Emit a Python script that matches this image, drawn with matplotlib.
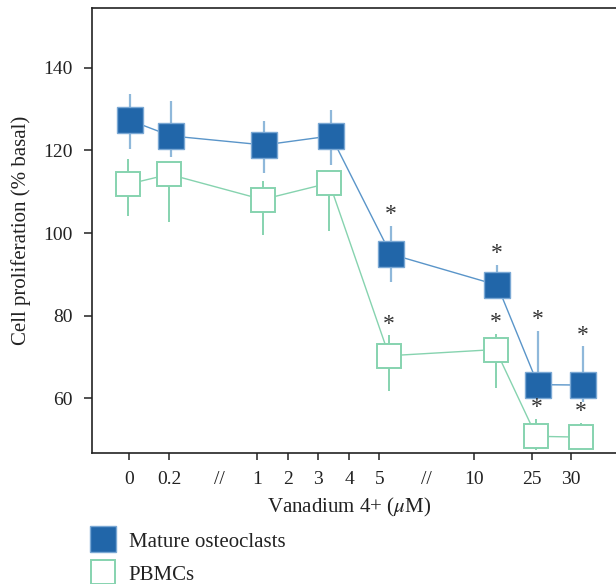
import matplotlib.pyplot as plt
from matplotlib.lines import Line2D

# Data (% basal)
doses = ['0', '0.2', '1', '3', '5', '10', '25', '30']
osteo_mean = [127.3, 123.5, 121.3, 123.5, 94.9, 87.4, 63.3, 63.2]
osteo_hi = [133.6, 131.9, 127.2, 129.8, 101.8, 92.3, 76.4, 72.6]
osteo_lo = [120.3, 118.3, 114.4, 116.5, 88.1, 85.5, 61.5, 59.2]
pbmc_mean = [111.8, 114.2, 108.1, 112.1, 70.3, 71.8, 50.8, 50.6]
pbmc_hi = [117.8, 116.0, 112.7, 114.0, 75.2, 75.6, 55.0, 54.0]
pbmc_lo = [104.2, 102.6, 99.4, 100.4, 61.7, 62.4, 47.5, 48.5]
significant = [False, False, False, False, True, True, True, True]

tick_labels = ['0', '0.2', '1', '2', '3', '4', '5', '10', '25', '30']
break_labels = ['//', '//']

# layout: slot positions along the broken x axis
tick_pos = [129, 169.3, 256.7, 287.7, 317.7, 349.3, 379.3, 473.7, 531.7, 571.3]
break_pos = [219.3, 426.7]
dose_pos = [128.7, 170, 263.3, 330.2, 389.9, 496.4, 537.2, 581.7]

BLUE = '#2166a9'
BLUE_EDGE = '#7aa8d4'
BLUE_LINE = '#5a95c9'
BLUE_ERR = '#8fb8da'
GREEN = '#86d3af'
INK = '#222222'

plt.rcParams['font.family'] = ['Liberation Serif', 'DejaVu Serif']
plt.rcParams['mathtext.fontset'] = 'stix'

fig = plt.figure(figsize=(6.16, 5.84), dpi=100)
ax = fig.add_axes([91.7 / 616, 1 - 453 / 584, 1 - 91.7 / 616, (453 - 8) / 584])

xo = [p + 0.8 for p in dose_pos]
xp = [p - 0.8 for p in dose_pos]

# error bars
ax.errorbar(xo, osteo_mean,
            yerr=[[m - l for m, l in zip(osteo_mean, osteo_lo)],
                  [h - m for m, h in zip(osteo_mean, osteo_hi)]],
            fmt='none', ecolor=BLUE_ERR, elinewidth=1.6, capsize=0, zorder=2)
ax.errorbar(xp, pbmc_mean,
            yerr=[[m - l for m, l in zip(pbmc_mean, pbmc_lo)],
                  [h - m for m, h in zip(pbmc_mean, pbmc_hi)]],
            fmt='none', ecolor=GREEN, elinewidth=1.4, capsize=0, zorder=2)

# connecting lines + square markers
ax.plot(xo, osteo_mean, color=BLUE_LINE, lw=1.0, zorder=1)
ax.plot(xp, pbmc_mean, color=GREEN, lw=1.0, zorder=1)
ax.plot(xo, osteo_mean, ls='none', marker='s', ms=18.2, mfc=BLUE,
        mec=BLUE_EDGE, mew=1.0, zorder=3)
ax.plot(xp, pbmc_mean, ls='none', marker='s', ms=17.5, mfc='white',
        mec=GREEN, mew=1.4, zorder=3)

# significance stars
for x, top, sig in zip(xo, osteo_hi, significant):
    if sig:
        ax.annotate('*', (x, top), xytext=(0, 0.5), textcoords='offset points',
                    ha='center', va='bottom', fontsize=17, color='#333333')
for x, top, sig in zip(xp, pbmc_hi, significant):
    if sig:
        ax.annotate('*', (x, top), xytext=(0, 0.5), textcoords='offset points',
                    ha='center', va='bottom', fontsize=17, color='#333333')

ax.set_xlim(91.7, 616)
ax.set_ylim(46.76, 154.45)
ax.set_yticks([60, 80, 100, 120, 140])
ax.set_xticks(tick_pos)
ax.set_xticklabels(tick_labels)
ax.set_xticks(break_pos, minor=True)
ax.set_xticklabels(break_labels, minor=True)
ax.tick_params(axis='x', which='minor', length=0, pad=13, labelsize=14, colors=INK)
ax.tick_params(axis='x', which='major', length=5, width=1.1, pad=8, labelsize=14, colors=INK)
ax.tick_params(axis='y', length=6, width=1.1, pad=8, labelsize=14, colors=INK)

for s in ['left', 'bottom', 'top']:
    ax.spines[s].set_linewidth(1.2)
    ax.spines[s].set_color(INK)
ax.spines['right'].set_visible(False)

ax.set_ylabel('Cell proliferation (% basal)', fontsize=15, color=INK)
ax.yaxis.set_label_coords(-(91.7 - 21.5) / 524.3, 0.5, transform=ax.transAxes)
ax.yaxis.label.set_va('center')
ax.set_xlabel(r'Vanadium 4+ ($\mu$M)', fontsize=15, color=INK)
ax.xaxis.set_label_coords((348.8 - 91.7) / 524.3, -(507 - 453) / 445, transform=ax.transAxes)
ax.xaxis.label.set_va('center')

handles = [
    Line2D([], [], ls='none', marker='s', ms=18.2, mfc=BLUE, mec=BLUE_EDGE, mew=1.0),
    Line2D([], [], ls='none', marker='s', ms=17.5, mfc='white', mec=GREEN, mew=1.4),
]
fig.legend(handles, ['Mature osteoclasts', 'PBMCs'], loc='upper left',
           bbox_to_anchor=(90 / 616, 1 - 532 / 584), frameon=False, fontsize=15,
           handlelength=1.25, handletextpad=0.6, labelspacing=0.65,
           borderpad=0, borderaxespad=0, labelcolor=INK)

fig.savefig('out.png', dpi=100)
